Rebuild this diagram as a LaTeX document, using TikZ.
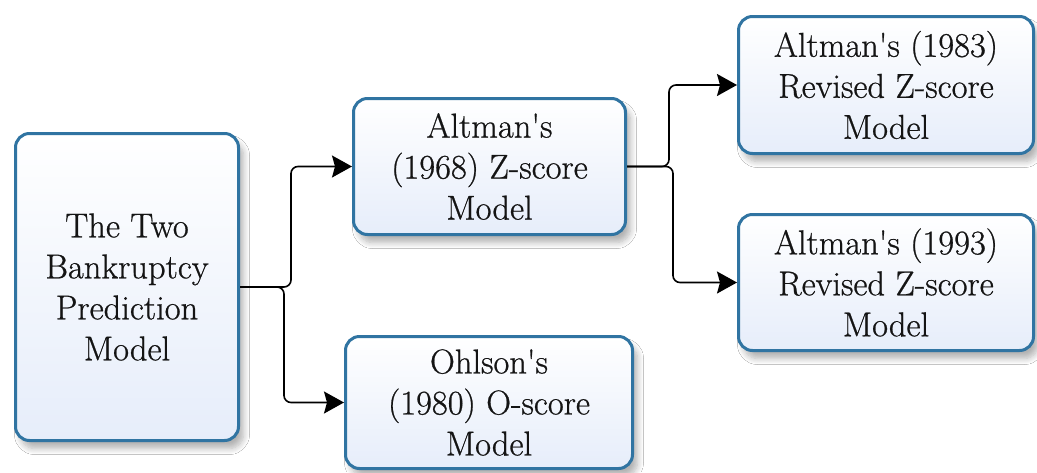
\documentclass[tikz,border=0pt]{standalone}
\usepackage{fontspec}
\newfontfamily\boxfont[FakeBold=0.7]{Latin Modern Roman}
\usetikzlibrary{arrows.meta,shadows.blur}
\definecolor{boxline}{RGB}{48,116,162}
\definecolor{boxfill}{RGB}{230,237,250}
\definecolor{inktext}{RGB}{20,20,20}
\newcommand{\apos}{\textquotesingle}
\begin{document}
\begin{tikzpicture}[x=1pt,y=-1pt,
  modelbox/.style={draw=boxline, line width=3pt, rounded corners=14pt,
    top color=white, bottom color=boxfill, align=center,
    font=\boxfont\fontsize{34.5}{41}\selectfont, text=inktext, inner sep=0pt,
    blur shadow={shadow xshift=5pt, shadow yshift=-8pt, shadow blur steps=8, shadow blur radius=6pt, shadow opacity=30}},
  link/.style={line width=1.6pt, -{Stealth[length=20pt,width=22pt,inset=3pt]}, rounded corners=7pt}]
\useasboundingbox (0,0) rectangle (1037,472);
\fill[white] (0,0) rectangle (1037,472);

\node[modelbox, minimum width=223pt, minimum height=307pt] (root) at (127,287) {The Two\\Bankruptcy\\Prediction\\Model};
\node[modelbox, minimum width=272pt, minimum height=136pt] (altman) at (489.5,166.5) {Altman\apos s\\(1968) Z-score\\Model};
\node[modelbox, minimum width=287pt, minimum height=132pt] (ohlson) at (489,402.5) {Ohlson\apos s\\(1980) O-score\\Model};
\node[modelbox, minimum width=295pt, minimum height=137pt] (rev83) at (886,85) {Altman\apos s (1983)\\Revised Z-score\\Model};
\node[modelbox, minimum width=295pt, minimum height=136pt] (rev93) at (886,282.5) {Altman\apos s (1993)\\Revised Z-score\\Model};

\draw[link] (root.east) -- ++(51,0) |- (altman.west);
\draw[link] (root.east) -- ++(44,0) |- (ohlson.west);
\draw[link] (altman.east) -- ++(42,0) |- (rev83.west);
\draw[link] (altman.east) -- ++(46,0) |- (rev93.west);
\end{tikzpicture}
\end{document}
